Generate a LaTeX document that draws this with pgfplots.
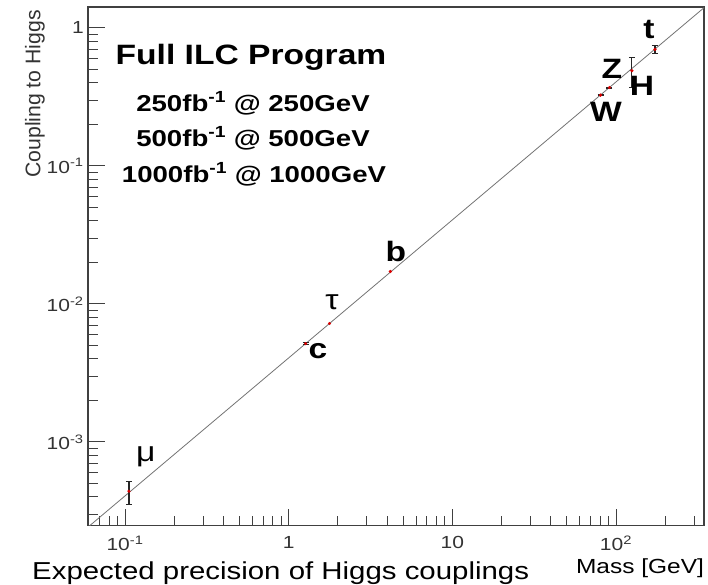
\documentclass[border=0pt]{standalone}
\usepackage{pgfplots}
\pgfplotsset{compat=1.18}
\usepackage{fontspec}
\setmainfont{Liberation Sans}
\tikzset{
  lab/.style={font=\fontsize{28}{30}\selectfont\bfseries, xscale=1.2, inner sep=0pt},
  glab/.style={font=\fontsize{28}{30}\selectfont, xscale=1.2, inner sep=0pt},
}
\begin{document}
\begin{tikzpicture}[x=1pt,y=1pt]
\useasboundingbox (-88,-59.4) rectangle (620,525.6);
\begin{axis}[
  at={(0,0)}, anchor=south west,
  scale only axis, width=616pt, height=518.6pt,
  xmode=log, ymode=log,
  xmin=0.0594, xmax=344.9, ymin=2.477e-4, ymax=1.419,
  axis line style={black!75, line width=1.4pt},
  tick align=inside, xtick pos=bottom, ytick pos=left,
  major tick length=17pt, minor tick length=10pt,
  tick style={black!75, line width=1pt},
  xtick={0.1,1,10,100},
  xticklabels={10\textsuperscript{-1},1,10,10\textsuperscript{2}},
  minor xtick={0.07,0.08,0.09,0.2,0.3,0.4,0.5,0.6,0.7,0.8,0.9,2,3,4,5,6,7,8,9,20,30,40,50,60,70,80,90,200,300},
  ytick={0.001,0.01,0.1,1},
  yticklabels={10\textsuperscript{-3},10\textsuperscript{-2},10\textsuperscript{-1},1},
  minor ytick={3e-4,4e-4,5e-4,6e-4,7e-4,8e-4,9e-4,2e-3,3e-3,4e-3,5e-3,6e-3,7e-3,8e-3,9e-3,0.02,0.03,0.04,0.05,0.06,0.07,0.08,0.09,0.2,0.3,0.4,0.5,0.6,0.7,0.8,0.9},
  tick label style={font=\fontsize{17.5}{20}\selectfont, text=black!80, xscale=1.2},
  xticklabel style={yshift=-7pt},
]
% coupling = mass / v line
\addplot[black!55, line width=0.8pt] coordinates {(0.0594,2.415e-4) (344.9,1.402)};
% measured couplings with visible error bars
\addplot[only marks, mark=*, mark size=1.4pt, color=red!85!black,
  error bars/.cd, y dir=both, y explicit,
  error bar style={black!85, line width=1.1pt},
  error mark options={black!85, line width=1.1pt, mark size=3pt, rotate=90}]
coordinates {
(0.1057,4.4e-4) += (0,0.8e-4) -= (0,0.9e-4)
(1.27,5.16e-3) +- (0,0.08e-3)
(80.4,0.326) +- (0,0.003)
(91.2,0.370) +- (0,0.003)
(125,0.49) += (0,0.12) -= (0,0.12)
(173,0.70) +- (0,0.045)
};
% measured couplings, errors too small to see
\addplot[only marks, mark=*, mark size=1.4pt, color=red!85!black]
coordinates {(1.777,7.22e-3) (4.18,0.0172)};
\node[lab] at (axis cs:159,0.983) {t};
\node[lab] at (axis cs:94.4,0.504) {Z};
\node[lab] at (axis cs:144,0.380) {H};
\node[lab] at (axis cs:86.8,0.246) {W};
\node[lab] at (axis cs:4.52,0.0242) {b};
\node[glab] at (axis cs:1.84,0.01033) {τ};
\node[lab] at (axis cs:1.51,4.56e-3) {c};
\node[glab] at (axis cs:0.134,7.78e-4) {μ};
\end{axis}
\node[anchor=base, xscale=1.2, inner sep=0pt, font=\fontsize{28}{30}\selectfont\bfseries] at (163,460.6) {Full ILC Program};
\node[anchor=base, xscale=1.2, inner sep=0pt, font=\fontsize{23}{26}\selectfont\bfseries] at (165,413.6) {250fb\textsuperscript{-1} @ 250GeV};
\node[anchor=base, xscale=1.2, inner sep=0pt, font=\fontsize{23}{26}\selectfont\bfseries] at (165,378.6) {500fb\textsuperscript{-1} @ 500GeV};
\node[anchor=base, xscale=1.2, inner sep=0pt, font=\fontsize{23}{26}\selectfont\bfseries] at (166,342.6) {1000fb\textsuperscript{-1} @ 1000GeV};
\node[rotate=90, anchor=east, inner sep=0pt, text=black!80, font=\fontsize{21.2}{23}\selectfont] at (-53,515.6) {Coupling to Higgs};
\node[anchor=base west, xscale=1.2, inner sep=0pt, font=\fontsize{24.5}{27}\selectfont] at (-56,-53.4) {Expected precision of Higgs couplings};
\node[anchor=base, xscale=1.2, inner sep=0pt, font=\fontsize{20.4}{22}\selectfont] at (552,-47.4) {Mass [GeV]};
\end{tikzpicture}
\end{document}
